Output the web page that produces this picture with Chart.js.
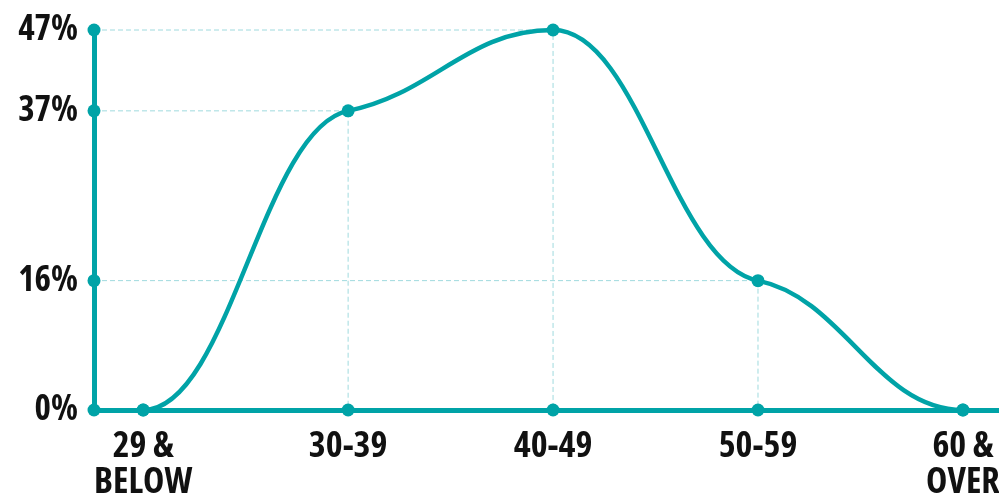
<!DOCTYPE html>
<html>
<head>
<meta charset="utf-8">
<script src="https://cdn.jsdelivr.net/npm/chart.js@4/dist/chart.umd.min.js"></script>
<style>
  html, body { margin: 0; padding: 0; background: #ffffff; }
  #wrap { width: 999px; height: 497px; position: relative; }
</style>
</head>
<body>
<div id="wrap"><canvas id="c"></canvas></div>
<script>
// ---- data ----
const categories = [["29 &", "BELOW"], "30-39", "40-49", "50-59", ["60 &", "OVER"]];
const shares = [0, 37, 47, 16, 0];
const yTickValues = [0, 16, 37, 47];

// ---- style ----
const TEAL = '#00a3a7';
const GUIDE = '#9fdade';
const FONT = "'Open Sans', 'Roboto Condensed', sans-serif";
const FONT_WEIGHT = 'condensed bold';
const X_MIN = -0.24, X_MAX = 4.176;

const linePoints = shares.map((v, i) => ({ x: i, y: v }));
const baseDots = categories.map((c, i) => ({ x: i, y: 0 }));
const axisDots = yTickValues.map(v => ({ x: X_MIN, y: v }));
const guideSets = shares.map((v, i) => v > 0 ? {
  type: 'line',
  data: [{ x: X_MIN, y: v }, { x: i, y: v }, { x: i, y: 0 }],
  borderColor: GUIDE, borderWidth: 1, borderDash: [5, 3],
  pointRadius: 0, tension: 0, order: 5, clip: false
} : null).filter(Boolean);

// smooth curve with near-horizontal tangents at each point
const flatSpline = {
  id: 'flatSpline',
  beforeDatasetDraw(chart, args) {
    if (args.index !== 0) return;
    const meta = args.meta;
    const line = meta.dataset;
    line.updateControlPoints(chart.chartArea, 'x');
    const pts = meta.data;
    const K = 0.42, S = 0.22;
    for (let i = 0; i < pts.length; i++) {
      const p = pts[i];
      const prev = pts[i - 1], next = pts[i + 1];
      let m = 0;
      if (prev && next) {
        const d0 = (p.y - prev.y) / (p.x - prev.x);
        const d1 = (next.y - p.y) / (next.x - p.x);
        if (d0 * d1 > 0) m = S * (d0 + d1) / 2;
      }
      const dxp = prev ? (p.x - prev.x) * K : 0;
      const dxn = next ? (next.x - p.x) * K : 0;
      p.cp1x = p.x - dxp; p.cp1y = p.y - m * dxp;
      p.cp2x = p.x + dxn; p.cp2y = p.y + m * dxn;
    }
    line._path = undefined;
  }
};

new Chart(document.getElementById('c'), {
  type: 'scatter',
  data: {
    datasets: [
      {
        type: 'line', data: linePoints, borderColor: TEAL, borderWidth: 4.5,
        pointRadius: 6.5, pointBackgroundColor: TEAL, pointBorderWidth: 0,
        tension: 0.4, fill: false, order: 1, clip: false
      },
      {
        data: baseDots, pointRadius: 6.5, pointBackgroundColor: TEAL, pointBorderWidth: 0,
        showLine: false, order: 0, clip: false
      },
      {
        data: axisDots, pointRadius: 6.5, pointBackgroundColor: TEAL, pointBorderWidth: 0,
        showLine: false, order: 0, clip: false
      },
      ...guideSets
    ]
  },
  plugins: [flatSpline],
  options: {
    responsive: true,
    maintainAspectRatio: false,
    animation: false,
    events: [],
    layout: { autoPadding: false, padding: { top: 30, right: 0, left: 0, bottom: 0 } },
    plugins: { legend: { display: false }, tooltip: { enabled: false } },
    scales: {
      x: {
        type: 'linear', position: 'bottom', min: X_MIN, max: X_MAX,
        grid: { display: false, drawTicks: false },
        border: { display: true, color: TEAL, width: 5 },
        afterBuildTicks: s => { s.ticks = categories.map((c, i) => ({ value: i })); },
        afterFit: s => { s.height = 87; s.paddingLeft = 0; s.paddingRight = 0; },
        ticks: {
          autoSkip: false, maxRotation: 0, padding: 19, color: '#111',
          font: { family: FONT, size: 36, weight: FONT_WEIGHT, lineHeight: '36px' },
          callback: v => categories[v]
        }
      },
      y: {
        min: 0, max: 47,
        grid: { display: false, drawTicks: false },
        border: { display: true, color: TEAL, width: 5 },
        afterBuildTicks: s => { s.ticks = yTickValues.map(v => ({ value: v })); },
        afterFit: s => { s.width = 94; s.paddingTop = 0; s.paddingBottom = 0; },
        ticks: {
          padding: 16, color: '#111',
          font: { family: FONT, size: 35, weight: FONT_WEIGHT },
          callback: v => v + '%'
        }
      }
    }
  }
});
</script>
</body>
</html>
